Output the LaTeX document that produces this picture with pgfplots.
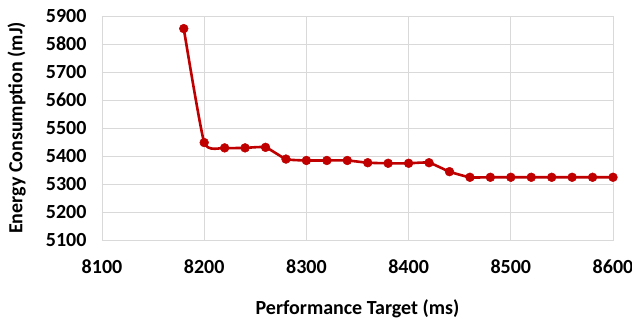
\documentclass[border=0pt]{standalone}
\usepackage{pgfplots}
\pgfplotsset{compat=1.18}
\usepackage{fontspec}
\setmainfont{Carlito}
\definecolor{ser}{RGB}{192,0,0}
\definecolor{gr}{RGB}{217,217,217}
\begin{document}
\begin{tikzpicture}
\begin{axis}[
  name=ax,
  scale only axis,
  width=511bp, height=224bp,
  xmin=8100, xmax=8600, ymin=5100, ymax=5900,
  xtick={8100,8200,...,8600},
  ytick={5100,5200,...,5900},
  grid=major,
  grid style={gr, line width=0.9pt},
  axis line style={gr, line width=0.9pt},
  tick style={draw=none},
  /pgf/number format/assume math mode=true,
  /pgf/number format/set thousands separator={},
  ticklabel style={font=\fontsize{20bp}{22bp}\selectfont\bfseries},
  xticklabel style={yshift=-16bp},
  yticklabel style={xshift=-12bp},
  label style={font=\fontsize{20bp}{22bp}\selectfont\bfseries},
  xlabel={Performance Target (ms)},
  ylabel={Energy Consumption (mJ)},
  xlabel style={at={(axis description cs:0.5,-0.307)}, anchor=center},
  ylabel style={at={(axis description cs:-0.167,0.5)}, anchor=center},
]
\addplot[ser, line width=2.6bp, smooth, tension=0.3, mark=*, mark size=4.4bp, mark options={fill=ser, draw=ser, line width=0.5pt}]
coordinates {
(8180,5855) (8200,5448) (8220,5429) (8240,5429) (8260,5431)
(8280,5389) (8300,5384) (8320,5384) (8340,5384) (8360,5376)
(8380,5374) (8400,5374) (8420,5376) (8440,5344) (8460,5324)
(8480,5324) (8500,5324) (8520,5324) (8540,5324) (8560,5324)
(8580,5324) (8600,5324)
};
\end{axis}
\pgfresetboundingbox
\path ([xshift=-102bp,yshift=-79bp]ax.south west) rectangle ([xshift=19bp,yshift=16bp]ax.north east);
\end{tikzpicture}
\end{document}
